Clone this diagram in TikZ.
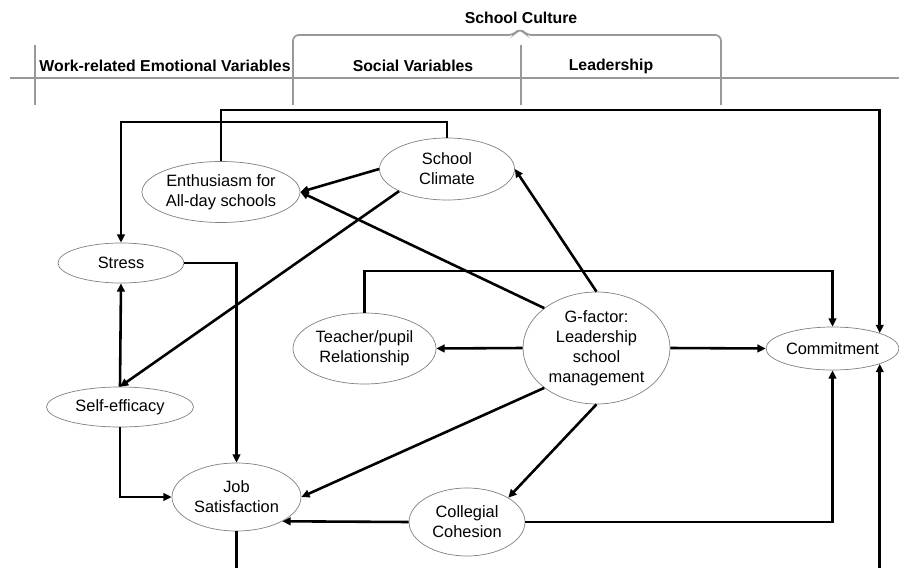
\documentclass[tikz,border=0pt]{standalone}
\usepackage{fontspec}
\setmainfont{Liberation Sans}
\usetikzlibrary{shapes.geometric,arrows.meta}

\begin{document}
\begin{tikzpicture}[x=0.03cm,y=-0.03cm,
    var/.style={ellipse,draw=gray,line width=0.6pt,inner sep=0pt,align=center,font=\fontsize{14}{17}\selectfont},
    hdr/.style={draw=gray!80,line width=1.5pt},
    hlab/.style={font=\fontsize{13.5}{16}\selectfont\bfseries},
    arr/.style={line width=2.2pt,-{Triangle[length=7pt,width=6.5pt]}},
    lin/.style={line width=2.2pt}]
      \useasboundingbox (0,0) rectangle (899,568);
      % header
      \draw[hdr] (10,78) -- (899,78);
      \foreach \x in {35,521} {\draw[hdr] (\x,45) -- (\x,105);}
      \draw[hdr,rounded corners=5pt] (293,105) -- (293,35) -- (514,35) -- (520,28) -- (526,35) -- (721,35) -- (721,105);
      \node[hlab] (wrev) at (165,66) {Work-related Emotional Variables};
      \node[hlab] (socv) at (413,66) {Social Variables};
      \node[hlab] (lead) at (611,66) {Leadership};
      \node[hlab] (scul) at (521,18) {School Culture};
      % variables
      \node[var,minimum width=4.74cm,minimum height=1.83cm] (enth) at (221,192) {Enthusiasm for\\All-day schools};
      \node[var,minimum width=4.05cm,minimum height=1.86cm] (clim) at (447,169) {School\\Climate};
      \node[var,minimum width=3.78cm,minimum height=1.2cm] (stress) at (121,263) {Stress};
      \node[var,minimum width=4.29cm,minimum height=2.13cm] (teach) at (364.5,348.5) {Teacher/pupil\\Relationship};
      \node[var,minimum width=4.41cm,minimum height=3.36cm] (gfac) at (596.5,348) {G-factor:\\Leadership\\school\\management};
      \node[var,minimum width=3.99cm,minimum height=1.29cm] (commit) at (832.5,348.5) {Commitment};
      \node[var,minimum width=4.41cm,minimum height=1.2cm] (selfeff) at (120,407) {Self-efficacy};
      \node[var,minimum width=3.87cm,minimum height=2.04cm] (jobsat) at (236.5,497) {Job\\Satisfaction};
      \node[var,minimum width=3.48cm,minimum height=2.04cm] (coll) at (467,522) {Collegial\\Cohesion};
      \coordinate (topA) at (0,110);
      \coordinate (topB) at (0,122);
      \coordinate (midA) at (0,271);
      \coordinate (botA) at (0,568);
      % paths
      \draw[arr] (enth.north) |- (topA -| commit.north east) -- (commit.north east);
      \draw[arr] (clim.north) |- (topB -| stress.north) -- (stress.north);
      \draw[arr] (teach.north) |- (midA -| commit.north) -- (commit.north);
      \draw[arr] (clim.west) -- (enth.east);
      \draw[arr] (clim.south west) -- (selfeff.north);
      \draw[arr] (gfac.north west) -- (enth.east);
      \draw[arr] (gfac.north) -- (clim.east);
      \draw[arr] (gfac.west) -- (teach.east);
      \draw[arr] (gfac.east) -- (commit.west);
      \draw[arr] (gfac.south west) -- (jobsat.east);
      \draw[arr] (gfac.south) -- (coll.north east);
      \draw[arr] (stress.east) -| (jobsat.north);
      \draw[arr] (selfeff.north) -- (stress.south);
      \draw[arr] (selfeff.south) |- (jobsat.west);
      \draw[arr] (coll.west) -- (jobsat.south east);
      \draw[arr] (coll.east) -| (commit.south);
      \draw[lin] (jobsat.south) -- (botA -| jobsat.south);
      \draw[arr] (botA -| commit.south east) -- (commit.south east);
    \end{tikzpicture}
\end{document}
